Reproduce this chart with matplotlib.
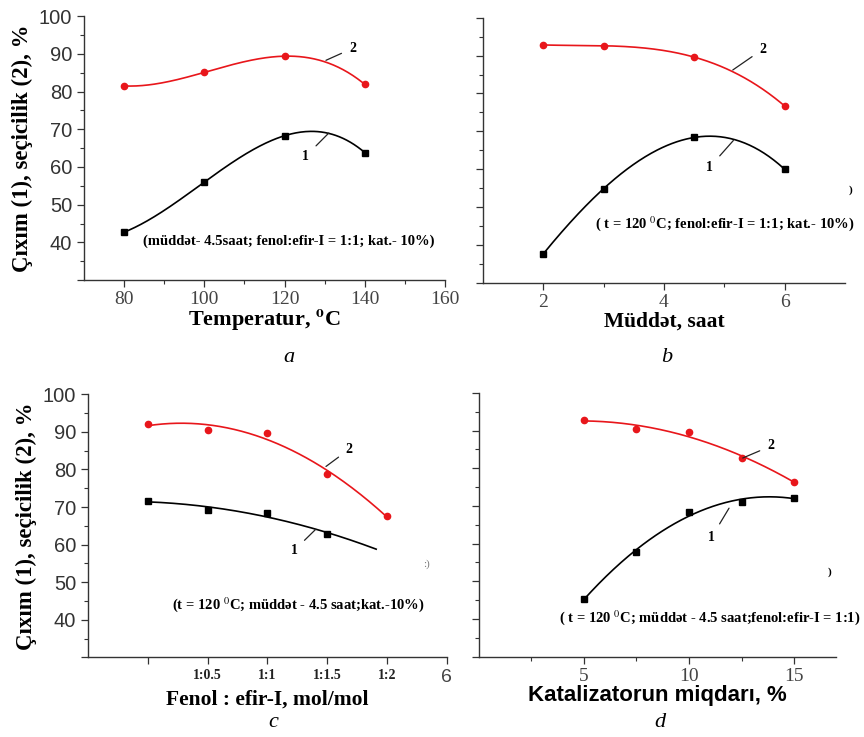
import numpy as np
import matplotlib.pyplot as plt

plt.rcParams['font.family'] = 'Liberation Serif'
plt.rcParams['mathtext.fontset'] = 'stix'

# Data: yield (1) and selectivity (2), %
temp = [80, 100, 120, 140]
temp_yield = [42.7, 56.0, 68.3, 63.8]
temp_sel = [81.5, 85.1, 89.4, 81.9]

time_h = [2, 3, 4.5, 6]
time_yield = [37.7, 54.9, 68.4, 60.0]
time_sel = [92.8, 92.6, 89.6, 76.7]

ratio_x = [1, 2, 3, 4, 5]
ratio_labels = ['', '1:0.5', '1:1', '1:1.5', '1:2', '6']
ratio_yield = [71.7, 69.1, 68.3, 62.9]
ratio_sel = [92.1, 90.4, 89.7, 78.9, 67.5]

cat = [5, 7.5, 10, 12.5, 15]
cat_yield = [45.3, 57.8, 68.3, 71.1, 72.1]
cat_sel = [92.8, 90.5, 89.5, 82.6, 76.4]

SANS = 'Liberation Sans'
GREY = '#444444'
NOTE = 10.5


def fit_line(ax, x, y, deg, color, x_end=None):
    xs = np.linspace(x[0], x_end if x_end else x[-1], 200)
    p = np.polyfit(x, y, deg)
    ax.plot(xs, np.polyval(p, xs), color=color, lw=1.2, zorder=2)


def style(ax, xlim, xmajor, xminor, ylabels=True):
    ax.set_xlim(*xlim)
    ax.set_ylim(30, 100)
    ax.spines['top'].set_visible(False)
    ax.spines['right'].set_visible(False)
    for s in ('left', 'bottom'):
        ax.spines[s].set_linewidth(1.0)
        ax.spines[s].set_color('#333333')
    ax.set_xticks(xmajor)
    ax.set_xticks(xminor, minor=True)
    ax.set_yticks(range(30, 101, 10))
    ax.set_yticks(range(35, 100, 10), minor=True)
    ax.tick_params(which='major', length=5, width=0.9, colors='#333333')
    ax.tick_params(which='minor', length=3, width=0.8, colors='#333333')
    ax.tick_params(axis='x', labelsize=14, labelcolor=GREY, pad=3)
    if ylabels:
        ax.set_yticklabels(['', '40', '50', '60', '70', '80', '90', '100'],
                           fontfamily=SANS, fontsize=14.5, color='#333333')
    else:
        ax.set_yticklabels([])


def marks(ax, x, yld, sel):
    ax.plot(x[:len(sel)], sel, 'o', color='#e8161b', ms=4.5, zorder=3)
    ax.plot(x[:len(yld)], yld, 's', color='black', ms=4, zorder=3)


def tag(ax, txt, xy, xytext):
    ax.annotate(txt, xy=xy, xytext=xytext, fontsize=10, fontweight='bold',
                ha='center', va='center',
                arrowprops=dict(arrowstyle='-', color='#222222', lw=0.9,
                                shrinkA=4, shrinkB=0))


def note(ax, txt, x, y, size=NOTE):
    ax.text(x, y, txt, transform=ax.transAxes, ha='center', va='center',
            fontsize=size, fontweight='bold')


fig = plt.figure(figsize=(8.64, 7.37), dpi=100)
ylab = 'Çıxım (1), seçicilik (2), %'

# a
ax = fig.add_axes([0.0972, 0.620, 0.418, 0.358])
fit_line(ax, temp, temp_sel, 3, '#e8161b')
fit_line(ax, temp, temp_yield, 3, 'black')
marks(ax, temp, temp_yield, temp_sel)
style(ax, (70, 160), [80, 100, 120, 140, 160], [90, 110, 130, 150])
ax.set_xlabel(r'Temperatur, $^{\mathbf{o}}$C', fontsize=16, fontweight='bold', labelpad=0)
ax.set_ylabel(ylab, fontsize=16.5, fontweight='bold', labelpad=4)
note(ax, '(müddət- 4.5saat; fenol:efir-I = 1:1; kat.- 10%)', 0.568, 0.148)
tag(ax, '2', (130.3, 88.3), (137, 91.5))
tag(ax, '1', (131, 69), (125.3, 62.9))

# b
ax = fig.add_axes([0.559, 0.616, 0.419, 0.360])
fit_line(ax, time_h, time_sel, 3, '#e8161b')
fit_line(ax, time_h, time_yield, 3, 'black')
marks(ax, time_h, time_yield, time_sel)
style(ax, (1, 7), [2, 4, 6], [3, 5], ylabels=False)
ax.set_xlabel('Müddət, saat', fontsize=15.5, fontweight='bold', labelpad=0)
note(ax, '( t = 120 $^0$C; fenol:efir-I = 1:1; kat.- 10%)', 0.668, 0.226)
ax.text(1.01, 0.35, ')', transform=ax.transAxes, fontsize=8, fontweight='bold', va='center')
tag(ax, '2', (5.14, 86.2), (5.64, 91.7))
tag(ax, '1', (5.15, 67.6), (4.76, 60.6))

# c
ax = fig.add_axes([0.102, 0.108, 0.415, 0.357])
fit_line(ax, ratio_x, ratio_sel, 2, '#e8161b')
fit_line(ax, ratio_x[:len(ratio_yield)], ratio_yield, 2, 'black', x_end=4.82)
marks(ax, ratio_x, ratio_yield, ratio_sel)
style(ax, (0, 6), [1, 2, 3, 4, 5, 6], [])
ax.set_xticklabels(ratio_labels)
for lbl in ax.get_xticklabels()[:-1]:
    lbl.set_fontsize(10)
    lbl.set_fontweight('bold')
    lbl.set_color('#222222')
last = ax.get_xticklabels()[-1]
last.set_fontfamily(SANS)
last.set_fontsize(14)
ax.set_xlabel('Fenol : efir-I, mol/mol', fontsize=15.5, fontweight='bold', labelpad=3)
ax.set_ylabel(ylab, fontsize=16.5, fontweight='bold', labelpad=4)
note(ax, '(t = 120 $^0$C; müddət - 4.5 saat;kat.-10%)', 0.585, 0.20)
ax.text(0.935, 0.356, ':)', transform=ax.transAxes, fontsize=8, color='#777777', va='center')
tag(ax, '2', (3.98, 80.8), (4.37, 85.4))
tag(ax, '1', (3.81, 64.1), (3.45, 58.5))

# d
ax = fig.add_axes([0.554, 0.109, 0.414, 0.358])
fit_line(ax, cat, cat_sel, 2, '#e8161b')
fit_line(ax, cat, cat_yield, 2, 'black')
marks(ax, cat, cat_yield, cat_sel)
style(ax, (0, 17), [5, 10, 15], [2.5, 7.5, 12.5], ylabels=False)
ax.set_xlabel('Katalizatorun miqdarı, %', fontfamily=SANS, fontsize=16,
              fontweight='bold', labelpad=0)
note(ax, '( t = 120 $^0$C; müddət - 4.5 saat;fenol:efir-I = 1:1)', 0.646, 0.15)
ax.text(0.976, 0.32, ')', transform=ax.transAxes, fontsize=8, fontweight='bold', va='center')
tag(ax, '2', (12.55, 82.7), (13.9, 85.9))
tag(ax, '1', (11.9, 69.4), (11.05, 61.5))

# panel letters
for txt, x, y in [('a', 0.334, 0.515), ('b', 0.772, 0.515),
                  ('c', 0.316, 0.02), ('d', 0.764, 0.02)]:
    fig.text(x, y, txt, fontsize=16, style='italic', ha='center', va='center')

fig.savefig('out.png', dpi=100)
